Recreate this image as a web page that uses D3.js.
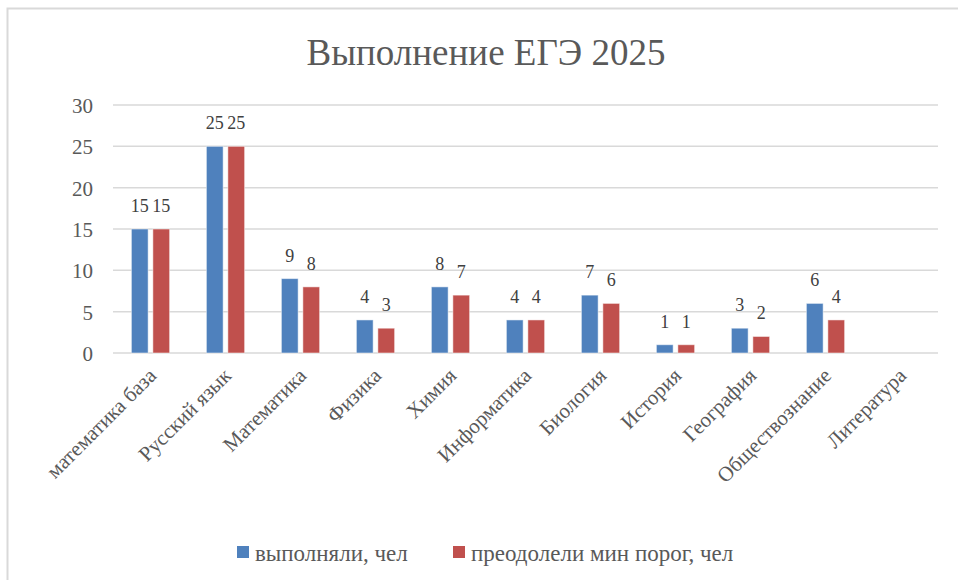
<!DOCTYPE html>
<html>
<head>
<meta charset="utf-8">
<script src="https://cdn.jsdelivr.net/npm/d3@7"></script>
<style>
	body { margin: 0; background: #fff; }
	svg { display: block; font-family: "Times New Roman", "Liberation Serif", "Liberation Sans", sans-serif; }
</style>
</head>
<body>
<svg id="chart" width="958" height="580"></svg>
<script>
	const subjects = ['математика база', 'Русский язык', 'Математика', 'Физика', 'Химия',
		'Информатика', 'Биология', 'История', 'География', 'Обществознание', 'Литература'];
	const tookExam = [15, 25, 9, 4, 8, 4, 7, 1, 3, 6, null];
	const passedMin = [15, 25, 8, 3, 7, 4, 6, 1, 2, 4, null];
	const seriesNames = ['выполняли, чел', 'преодолели мин порог, чел'];
	const seriesColors = ['#4F81BD', '#C0504D'];
	const yTicks = [0, 5, 10, 15, 20, 25, 30];

	const svg = d3.select('#chart');

	// chart frame (runs off the right and bottom edges in the original)
	svg.append('rect')
		.attr('x', 7.5).attr('y', 8.5)
		.attr('width', 1000).attr('height', 1000)
		.attr('fill', 'none')
		.attr('stroke', '#d9d9d9')
		.attr('stroke-width', 2);

	svg.append('text')
		.attr('x', 486).attr('y', 65)
		.attr('text-anchor', 'middle')
		.attr('font-size', 37)
		.attr('fill', '#595959')
		.text('Выполнение ЕГЭ 2025');

	const plotLeft = 113, plotRight = 938, plotTop = 105, plotBottom = 353;

	const y = d3.scaleLinear().domain([0, 30]).range([plotBottom, plotTop]);
	const x0 = d3.scaleBand().domain(subjects).range([plotLeft, plotRight])
		.paddingInner(0.49).paddingOuter(0.245);
	const x1 = d3.scaleBand().domain([0, 1]).range([0, x0.bandwidth()]).paddingInner(0.22);

	// gridlines
	svg.append('g')
		.selectAll('line')
		.data(yTicks)
		.enter().append('line')
		.attr('x1', plotLeft).attr('x2', plotRight)
		.attr('y1', function(d) { return y(d); })
		.attr('y2', function(d) { return y(d); })
		.attr('stroke', '#d9d9d9')
		.attr('stroke-width', 1.5);

	// y tick labels
	svg.append('g')
		.selectAll('text')
		.data(yTicks)
		.enter().append('text')
		.attr('x', 93)
		.attr('y', function(d) { return y(d) + 8; })
		.attr('text-anchor', 'end')
		.attr('font-size', 21)
		.attr('fill', '#595959')
		.text(function(d) { return d; });

	const series = [tookExam, passedMin];
	const rows = [];
	subjects.forEach(function(s, i) {
		series.forEach(function(vals, k) {
			if (vals[i] != null) rows.push({ subject: s, k: k, value: vals[i] });
		});
	});

	svg.append('g')
		.selectAll('rect')
		.data(rows)
		.enter().append('rect')
		.attr('x', function(d) { return x0(d.subject) + x1(d.k); })
		.attr('y', function(d) { return y(d.value); })
		.attr('width', x1.bandwidth())
		.attr('height', function(d) { return plotBottom - y(d.value); })
		.attr('fill', function(d) { return seriesColors[d.k]; })
		.attr('stroke', '#fff')
		.attr('stroke-opacity', 0.5)
		.attr('stroke-width', 1);

	svg.append('g')
		.selectAll('text')
		.data(rows)
		.enter().append('text')
		.attr('x', function(d) { return x0(d.subject) + x1(d.k) + x1.bandwidth() / 2; })
		.attr('y', function(d) { return y(d.value) - 17; })
		.attr('text-anchor', 'middle')
		.attr('font-size', 18)
		.attr('fill', '#404040')
		.text(function(d) { return d.value; });

	// category labels, rotated
	svg.append('g')
		.selectAll('text')
		.data(subjects)
		.enter().append('text')
		.attr('transform', function(d) {
			return 'translate(' + (x0(d) + x0.bandwidth() / 2 + 7) + ',' + 377 + ') rotate(-45)';
		})
		.attr('text-anchor', 'end')
		.attr('font-size', 21)
		.attr('fill', '#595959')
		.text(function(d) { return d; });

	// legend
	const legendX = [237, 453];
	const legend = svg.append('g')
		.selectAll('g')
		.data(seriesNames)
		.enter().append('g')
		.attr('transform', function(d, i) { return 'translate(' + legendX[i] + ',546)'; });
	legend.append('rect')
		.attr('width', 12).attr('height', 12)
		.attr('fill', function(d, i) { return seriesColors[i]; });
	legend.append('text')
		.attr('x', 18).attr('y', 15)
		.attr('font-size', 23)
		.attr('fill', '#595959')
		.text(function(d) { return d; });
</script>
</body>
</html>
